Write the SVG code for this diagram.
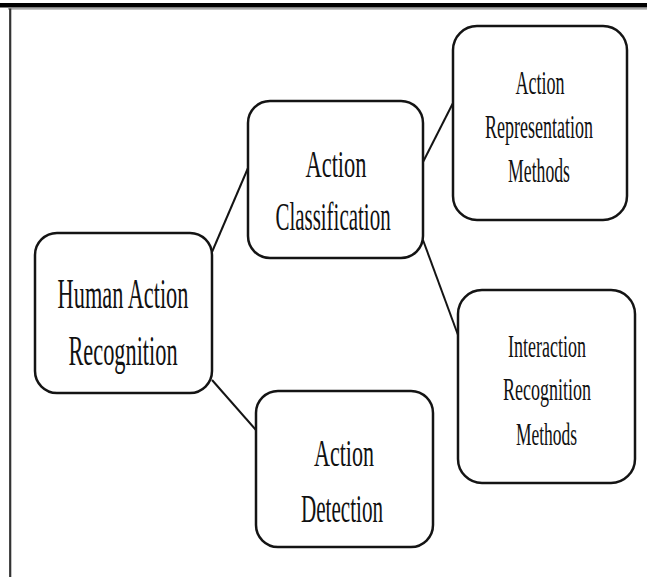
<svg xmlns="http://www.w3.org/2000/svg" width="647" height="577" viewBox="0 0 647 577">
<style>
.box{fill:#fff;stroke:#141414;stroke-width:2.5}
.lbl{font-family:"Liberation Serif","Times New Roman",serif;fill:#111;text-anchor:middle}
.con{stroke:#141414;stroke-width:2;fill:none}
</style>
<rect x="0" y="0" width="647" height="577" fill="#fff"/>
<g id="frame">
<rect x="0" y="3" width="647" height="4.5" fill="#000"/>
<line x1="8" y1="8.8" x2="647" y2="8.8" stroke="#8a8a8a" stroke-width="1.2"/>
<line x1="10.2" y1="8.5" x2="10.2" y2="577" stroke="#333" stroke-width="2.2"/>
</g>
<g id="connectors">
<line class="con" x1="212" y1="252" x2="248" y2="168"/>
<line class="con" x1="212" y1="380" x2="256" y2="430"/>
<line class="con" x1="423" y1="162" x2="453" y2="103"/>
<line class="con" x1="423" y1="240" x2="458" y2="335"/>
</g>
<g id="human-action-recognition">
<rect class="box" x="35" y="233" width="177" height="160" rx="22"/>
<text class="lbl" transform="translate(123,308) scale(0.6,1)" x="0" y="0" font-size="43" textLength="218" lengthAdjust="spacingAndGlyphs">Human Action</text>
<text class="lbl" transform="translate(123,365) scale(0.6,1)" x="0" y="0" font-size="43" textLength="182" lengthAdjust="spacingAndGlyphs">Recognition</text>
</g>
<g id="action-classification">
<rect class="box" x="248" y="101" width="175" height="157" rx="22"/>
<text class="lbl" transform="translate(336,177) scale(0.6,1)" x="0" y="0" font-size="38" textLength="102" lengthAdjust="spacingAndGlyphs">Action</text>
<text class="lbl" transform="translate(333,230) scale(0.6,1)" x="0" y="0" font-size="39" textLength="192" lengthAdjust="spacingAndGlyphs">Classification</text>
</g>
<g id="action-representation-methods">
<rect class="box" x="453" y="26" width="174" height="194" rx="24"/>
<text class="lbl" transform="translate(540,94) scale(0.6,1)" x="0" y="0" font-size="33" textLength="82" lengthAdjust="spacingAndGlyphs">Action</text>
<text class="lbl" transform="translate(539,138) scale(0.6,1)" x="0" y="0" font-size="33" textLength="180" lengthAdjust="spacingAndGlyphs">Representation</text>
<text class="lbl" transform="translate(539,182) scale(0.6,1)" x="0" y="0" font-size="33" textLength="103" lengthAdjust="spacingAndGlyphs">Methods</text>
</g>
<g id="interaction-recognition-methods">
<rect class="box" x="458" y="290" width="177" height="193" rx="24"/>
<text class="lbl" transform="translate(547,357) scale(0.6,1)" x="0" y="0" font-size="32" textLength="130" lengthAdjust="spacingAndGlyphs">Interaction</text>
<text class="lbl" transform="translate(547,400) scale(0.6,1)" x="0" y="0" font-size="32" textLength="147" lengthAdjust="spacingAndGlyphs">Recognition</text>
<text class="lbl" transform="translate(546.5,445) scale(0.6,1)" x="0" y="0" font-size="32" textLength="102" lengthAdjust="spacingAndGlyphs">Methods</text>
</g>
<g id="action-detection">
<rect class="box" x="256" y="391" width="177" height="156" rx="22"/>
<text class="lbl" transform="translate(344,466) scale(0.6,1)" x="0" y="0" font-size="37" textLength="100" lengthAdjust="spacingAndGlyphs">Action</text>
<text class="lbl" transform="translate(342,522) scale(0.6,1)" x="0" y="0" font-size="39" textLength="137" lengthAdjust="spacingAndGlyphs">Detection</text>
</g>
</svg>
